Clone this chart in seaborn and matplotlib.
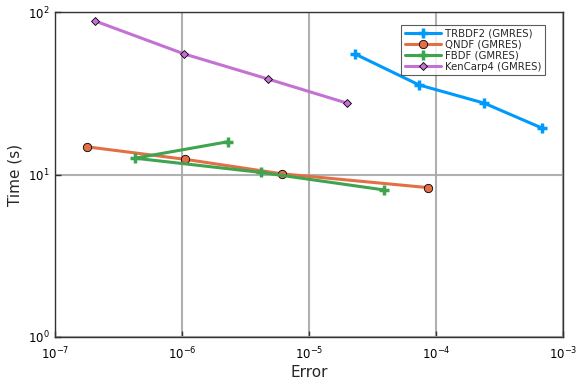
import matplotlib
matplotlib.use("Agg")
import matplotlib.pyplot as plt
import seaborn as sns
import pandas as pd
import numpy as np

sns.set_theme(style="white")
plt.rcParams["font.family"] = ["DejaVu Sans"]

# dados (erro x tempo)
trbdf2_err = [2.30e-5, 7.34e-5, 2.39e-4, 6.84e-4]
trbdf2_time = [55.2, 35.6, 27.5, 19.3]

qndf_err = [1.79e-7, 1.06e-6, 6.10e-6, 8.7e-5]
qndf_time = [14.8, 12.4, 10.1, 8.3]

fbdf_err = [3.92e-5, 4.17e-6, 4.27e-7, 2.29e-6]
fbdf_time = [8.03, 10.3, 12.6, 15.9]

kencarp4_err = [2.07e-7, 1.04e-6, 4.75e-6, 1.99e-5]
kencarp4_time = [88.0, 55.2, 38.7, 27.5]

series = [
    ("TRBDF2 (GMRES)", trbdf2_err, trbdf2_time, "#009AFA", "+"),
    ("QNDF (GMRES)", qndf_err, qndf_time, "#E36F47", "o"),
    ("FBDF (GMRES)", fbdf_err, fbdf_time, "#3EA44E", "+"),
    ("KenCarp4 (GMRES)", kencarp4_err, kencarp4_time, "#C371D2", "D"),
]

fig = plt.figure(figsize=(5.76, 3.84), dpi=100)
ax = fig.add_axes([55 / 576, 1 - 337 / 384, 508 / 576, 325 / 384])

for nome, err, tempo, cor, marcador in series:
    df = pd.DataFrame({"Error": err, "Time": tempo})
    if marcador == "+":
        kw = dict(markersize=7, markeredgewidth=2.5, markeredgecolor=cor)
    elif marcador == "o":
        kw = dict(markersize=6, markeredgewidth=0.6, markeredgecolor="black")
    else:
        kw = dict(markersize=4.5, markeredgewidth=0.6, markeredgecolor="black")
    sns.lineplot(data=df, x="Error", y="Time", sort=False, color=cor,
                 linewidth=2.2, marker=marcador, label=nome, ax=ax, **kw)

ax.set_xscale("log")
ax.set_yscale("log")
ax.set_xlim(1e-7, 1e-3)
ax.set_ylim(1, 100)
ax.set_xticks([1e-7, 1e-6, 1e-5, 1e-4, 1e-3])
ax.set_yticks([1, 10, 100])
ax.minorticks_off()
ax.grid(True, color="#a8a8a8", linewidth=1.5, alpha=0.9)
ax.set_axisbelow(True)
for lado in ax.spines.values():
    lado.set_color("#333333")
    lado.set_linewidth(1.0)
ax.tick_params(direction="in", length=4, width=1, labelsize=8.5,
               bottom=True, left=True, colors="#333333", labelcolor="black")
ax.tick_params(axis="x", pad=6)
ax.tick_params(axis="y", pad=4)
ax.set_xlabel("Error", fontsize=11, labelpad=2)
ax.set_ylabel("Time (s)", fontsize=11)

leg = ax.legend(loc="upper right", fontsize=7.3, frameon=True, fancybox=False,
                edgecolor="#333333", borderpad=0.35, labelspacing=0.1,
                handlelength=3.6, handletextpad=0.4,
                bbox_to_anchor=(0.975, 0.975))
leg.get_frame().set_linewidth(0.8)

fig.savefig("out.png", dpi=100)
